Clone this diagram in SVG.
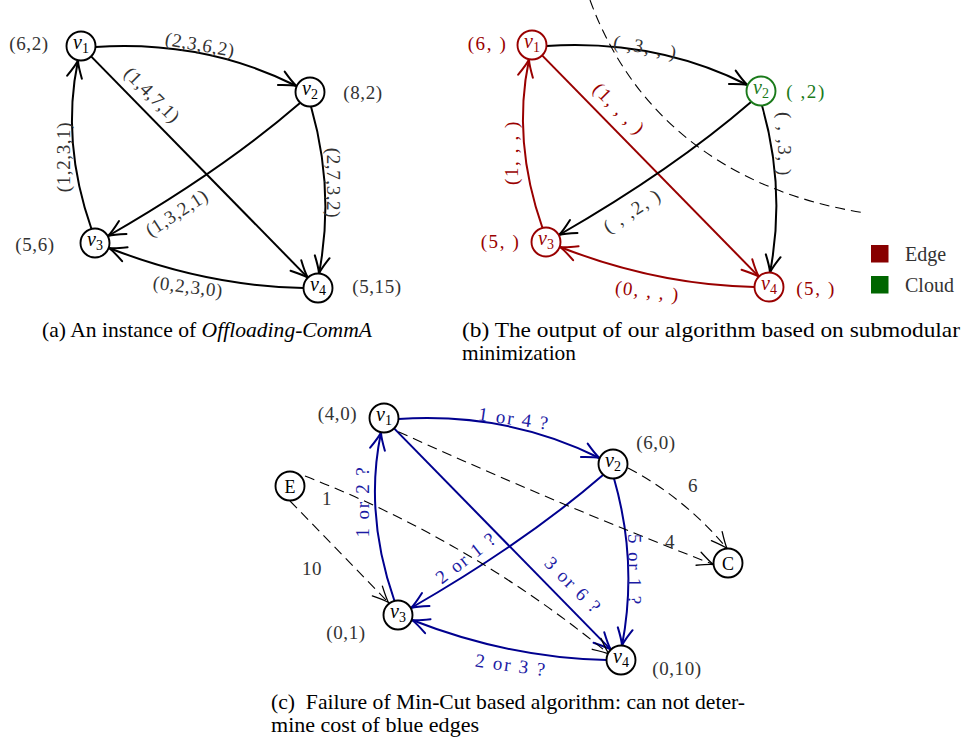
<svg xmlns="http://www.w3.org/2000/svg" width="963" height="740" viewBox="0 0 963 740">
<defs>
<style>
.node circle{fill:#fff;stroke:#000;stroke-width:1.9}
.nl{font-family:"Liberation Serif",serif;font-size:20px;text-anchor:middle;fill:#000}
.nl .v{font-style:italic}
.nl .s{font-size:14px}
.lbl{font-family:"Liberation Serif",serif;font-size:19px;text-anchor:middle;fill:#333;letter-spacing:0.6px}
.lb2{letter-spacing:1.6px}
.blu{fill:#1c1ca4;letter-spacing:1.8px}
.red{fill:#990000}
.grn{fill:#1a7a1a}
.e{fill:none;stroke-width:2}
.k{stroke:#000;marker-end:url(#ak)}
.r{stroke:#990000;marker-end:url(#ar)}
.b{stroke:#00008f;marker-end:url(#ab)}
.d{fill:none;stroke:#000;stroke-width:1.1;stroke-dasharray:10 6;marker-end:url(#ad)}
.cap{font-family:"Liberation Serif",serif;font-size:21px;fill:#000}
</style>
<marker id="ak" markerUnits="userSpaceOnUse" viewBox="-20 -10 22 20" markerWidth="22" markerHeight="20" refX="0" refY="0" orient="auto"><path d="M-17,-7.5 C-10,-3.8 -3,-0.8 0,0 C-3,0.8 -10,3.8 -17,7.5" fill="none" stroke="#000" stroke-width="2" stroke-linecap="round"/></marker>
<marker id="ar" markerUnits="userSpaceOnUse" viewBox="-20 -10 22 20" markerWidth="22" markerHeight="20" refX="0" refY="0" orient="auto"><path d="M-17,-7.5 C-10,-3.8 -3,-0.8 0,0 C-3,0.8 -10,3.8 -17,7.5" fill="none" stroke="#990000" stroke-width="2" stroke-linecap="round"/></marker>
<marker id="ab" markerUnits="userSpaceOnUse" viewBox="-20 -10 22 20" markerWidth="22" markerHeight="20" refX="0" refY="0" orient="auto"><path d="M-17,-7.5 C-10,-3.8 -3,-0.8 0,0 C-3,0.8 -10,3.8 -17,7.5" fill="none" stroke="#00008f" stroke-width="2" stroke-linecap="round"/></marker>
<marker id="ad" markerUnits="userSpaceOnUse" viewBox="-20 -10 22 20" markerWidth="22" markerHeight="20" refX="0" refY="0" orient="auto"><path d="M-16,-7 C-9,-3.5 -3,-0.8 0,0 C-3,0.8 -9,3.5 -16,7" fill="none" stroke="#000" stroke-width="1.3" stroke-linecap="round"/></marker>
</defs>
<rect width="963" height="740" fill="#fff"/>

<!-- Panel (a) connectors -->
<g id="connectors-a">
<path class="e k" d="M95.5,47 Q205,40 296.5,86"/>
<path class="e k" d="M91.1,56.4 L307.8,277.6"/>
<path class="e k" d="M300,103 Q222,170.5 108,236"/>
<path class="e k" d="M311,106.5 Q335,190 319,273.5"/>
<path class="e k" d="M303.5,288 Q206,286 109,248"/>
<path class="e k" d="M91.5,229 Q61,142 78,60.5"/>
</g>
<g id="labels-a" class="lbl">
<text transform="translate(200,45) rotate(10)" y="6">(2,3,6,2)</text>
<text transform="translate(152,95) rotate(45)" y="6">(1,4,7,1)</text>
<text transform="translate(177,213) rotate(-33)" y="6">(1,3,2,1)</text>
<text transform="translate(333,183) rotate(90)" y="6">(2,7,3,2)</text>
<text transform="translate(188,287) rotate(7)" y="6">(0,2,3,0)</text>
<text transform="translate(64,157) rotate(-90)" y="6">(1,2,3,1)</text>
<text x="29" y="50">(6,2)</text>
<text x="363" y="99">(8,2)</text>
<text x="35" y="251">(5,6)</text>
<text x="377" y="293">(5,15)</text>
</g>
<g id="a-v1" class="node"><circle cx="81" cy="46" r="14.5"/><text class="nl" x="81" y="49"><tspan class="v">v</tspan><tspan class="s" dy="4">1</tspan></text></g>
<g id="a-v2" class="node"><circle cx="310" cy="92" r="14.5"/><text class="nl" x="310" y="95"><tspan class="v">v</tspan><tspan class="s" dy="4">2</tspan></text></g>
<g id="a-v3" class="node"><circle cx="95" cy="243" r="14.5"/><text class="nl" x="95" y="246"><tspan class="v">v</tspan><tspan class="s" dy="4">3</tspan></text></g>
<g id="a-v4" class="node"><circle cx="318" cy="288" r="14.5"/><text class="nl" x="318" y="291"><tspan class="v">v</tspan><tspan class="s" dy="4">4</tspan></text></g>

<!-- Panel (b) -->
<path d="M590,0 C630,110 720,190 865,213" fill="none" stroke="#000" stroke-width="1.1" stroke-dasharray="10 6"/>
<g id="connectors-b" transform="translate(451,-1)">
<path class="e k" d="M95.5,47 Q205,40 296.5,86"/>
<path class="e r" d="M91.1,56.4 L307.8,277.6"/>
<path class="e k" d="M300,103 Q222,170.5 108,236"/>
<path class="e k" d="M311,106.5 Q335,190 319,273.5"/>
<path class="e r" d="M303.5,288 Q206,286 109,248"/>
<path class="e r" d="M91.5,229 Q61,142 78,60.5"/>
</g>
<g id="labels-b" class="lbl lb2">
<text transform="translate(645.5,47.5) rotate(10)" y="6">( ,3, , )</text>
<text class="red" transform="translate(619,109) rotate(45)" y="6">(1, , , )</text>
<text class="red" transform="translate(511.5,152.5) rotate(-90)" y="6">(1, , , )</text>
<text transform="translate(632.5,211) rotate(-33)" y="6">( , ,2, )</text>
<text transform="translate(783.5,144.5) rotate(90)" y="6">( , ,3, )</text>
<text class="red" transform="translate(647.5,291.5) rotate(7)" y="6">(0, , , )</text>
<text class="red" x="487.5" y="50">(6, )</text>
<text class="grn" x="806" y="98">( ,2)</text>
<text class="red" x="500.5" y="248">(5, )</text>
<text class="red" x="816" y="295">(5, )</text>
</g>
<g id="b-v1" class="node"><circle cx="532" cy="45" r="14.5" style="stroke:#990000"/><text class="nl red" x="532" y="48"><tspan class="v">v</tspan><tspan class="s" dy="4">1</tspan></text></g>
<g id="b-v2" class="node"><circle cx="761" cy="91" r="14.5" style="stroke:#1a7a1a"/><text class="nl grn" x="761" y="94"><tspan class="v">v</tspan><tspan class="s" dy="4">2</tspan></text></g>
<g id="b-v3" class="node"><circle cx="546" cy="242" r="14.5" style="stroke:#990000"/><text class="nl red" x="546" y="245"><tspan class="v">v</tspan><tspan class="s" dy="4">3</tspan></text></g>
<g id="b-v4" class="node"><circle cx="769" cy="287" r="14.5" style="stroke:#990000"/><text class="nl red" x="769" y="290"><tspan class="v">v</tspan><tspan class="s" dy="4">4</tspan></text></g>
<g id="legend">
<rect x="871" y="245" width="17.5" height="17.5" fill="#880000"/>
<rect x="871" y="276" width="17.5" height="17.5" fill="#006600"/>
<text x="905" y="261" font-family="Liberation Serif, serif" font-size="20" fill="#333">Edge</text>
<text x="905" y="292" font-family="Liberation Serif, serif" font-size="20" fill="#333">Cloud</text>
</g>

<!-- Panel (c) -->
<g id="connectors-c">
<g transform="translate(303,372)">
<path class="e b" d="M95.5,47 Q205,40 296.5,86"/>
<path class="e b" d="M91.1,56.4 L307.8,277.6"/>
<path class="e b" d="M300,103 Q222,170.5 108,236"/>
<path class="e b" d="M311,106.5 Q335,190 319,273.5"/>
<path class="e b" d="M303.5,288 Q206,286 109,248"/>
<path class="e b" d="M91.5,229 Q61,142 78,60.5"/>
</g>
<path class="d" d="M290,501 L388.5,602.5"/>
<path class="d" d="M305,476 Q470,540 609,654"/>
<path class="d" d="M398.3,431.7 Q560,505 713.5,564.5"/>
<path class="d" d="M628,468 Q685,498 727,548.5"/>
</g>
<g id="labels-c" class="lbl">
<text class="blu" transform="translate(514,419) rotate(8)" y="6">1 or 4 ?</text>
<text class="blu" transform="translate(362.5,501.5) rotate(-90)" y="6">1 or 2 ?</text>
<text class="blu" transform="translate(466.5,558) rotate(-38)" y="6">2 or 1 ?</text>
<text class="blu" transform="translate(573,585.5) rotate(45)" y="6">3 or 6 ?</text>
<text class="blu" transform="translate(634,570) rotate(90)" y="6">5 or 1 ?</text>
<text class="blu" transform="translate(511,665.5) rotate(8)" y="6">2 or 3 ?</text>
<text x="312" y="575">10</text>
<text x="327" y="505">1</text>
<text x="670" y="548">4</text>
<text x="693" y="492">6</text>
<text x="337.5" y="420">(4,0)</text>
<text x="656" y="449">(6,0)</text>
<text x="346" y="639">(0,1)</text>
<text x="677" y="675">(0,10)</text>
</g>
<g id="c-v1" class="node"><circle cx="384" cy="418" r="14.5"/><text class="nl" x="384" y="421"><tspan class="v">v</tspan><tspan class="s" dy="4">1</tspan></text></g>
<g id="c-v2" class="node"><circle cx="613" cy="464" r="14.5"/><text class="nl" x="613" y="467"><tspan class="v">v</tspan><tspan class="s" dy="4">2</tspan></text></g>
<g id="c-v3" class="node"><circle cx="398" cy="615" r="14.5"/><text class="nl" x="398" y="618"><tspan class="v">v</tspan><tspan class="s" dy="4">3</tspan></text></g>
<g id="c-v4" class="node"><circle cx="621" cy="660" r="14.5"/><text class="nl" x="621" y="663"><tspan class="v">v</tspan><tspan class="s" dy="4">4</tspan></text></g>
<g id="c-E" class="node"><circle cx="290" cy="486" r="14.5"/><text class="nl" x="290" y="492.5" style="font-size:18px">E</text></g>
<g id="c-C" class="node"><circle cx="728" cy="563" r="14.5"/><text class="nl" x="728" y="569.5" style="font-size:18px">C</text></g>

<!-- Captions -->
<g id="captions" class="cap">
<text x="42" y="337" textLength="330" lengthAdjust="spacingAndGlyphs">(a) An instance of <tspan font-style="italic">Offloading-CommA</tspan></text>
<text x="462" y="337" textLength="498" lengthAdjust="spacingAndGlyphs">(b) The output of our algorithm based on submodular</text>
<text x="462" y="359.5" textLength="114" lengthAdjust="spacingAndGlyphs">minimization</text>
<text x="271" y="709" textLength="474" lengthAdjust="spacingAndGlyphs" xml:space="preserve">(c)  Failure of Min-Cut based algorithm: can not deter-</text>
<text x="271" y="731.5" textLength="208" lengthAdjust="spacingAndGlyphs">mine cost of blue edges</text>
</g>
</svg>
